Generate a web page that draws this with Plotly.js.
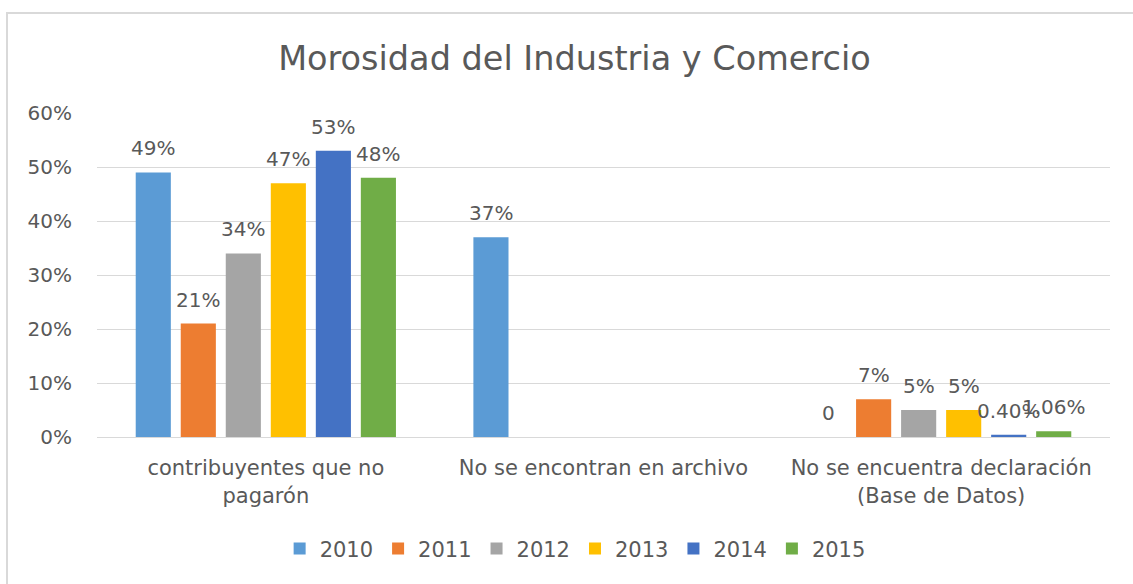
<!DOCTYPE html>
<html>
<head>
<meta charset="utf-8">
<script src="https://cdn.plot.ly/plotly-3.0.1.min.js"></script>
<style>
  html, body { margin: 0; padding: 0; background: #ffffff; }
  #wrap { position: relative; width: 1133px; height: 584px; overflow: hidden; }
  #chart { width: 1133px; height: 584px; }
  #frame { position: absolute; left: 6px; top: 12px; width: 1140px; height: 600px;
           border-top: 2px solid #d9d9d9; border-left: 2px solid #d9d9d9; pointer-events: none; }
</style>
</head>
<body>
<div id="wrap">
  <div id="chart"></div>
  <div id="frame"></div>
</div>
<script>
// ---- Data ----
const categories = [
  "contribuyentes que no<br>pagarón",
  "No se encontran en archivo",
  "No se encuentra declaración<br>(Base de Datos)"
];
const years = ["2010", "2011", "2012", "2013", "2014", "2015"];
const v2010 = [0.49, 0.37, 0];
const v2011 = [0.21, null, 0.07];
const v2012 = [0.34, null, 0.05];
const v2013 = [0.47, null, 0.05];
const v2014 = [0.53, null, 0.004];
const v2015 = [0.48, null, 0.0106];
const l2010 = ["49%", "37%", "0"];
const l2011 = ["21%", null, "7%"];
const l2012 = ["34%", null, "5%"];
const l2013 = ["47%", null, "5%"];
const l2014 = ["53%", null, "0.40%"];
const l2015 = ["48%", null, "1.06%"];
const yTickVals = [0, 0.1, 0.2, 0.3, 0.4, 0.5, 0.6];

// ---- Style ----
const colors = ["#5B9BD5", "#ED7D31", "#A5A5A5", "#FFC000", "#4472C4", "#70AD47"];
const series = [v2010, v2011, v2012, v2013, v2014, v2015];
const labels = [l2010, l2011, l2012, l2013, l2014, l2015];
const FONT = "'DejaVu Sans', sans-serif";
const TXT = "#595959";
const bargap = 0.2, bargroupgap = 0.22;

const traces = series.map((vals, i) => ({
  type: "bar",
  name: years[i],
  x: categories,
  y: vals,
  marker: { color: colors[i] },
  hoverinfo: "skip"
}));

// data labels placed at each bar's position on the category axis
const n = series.length;
const slot = (1 - bargap) / n;
const annotations = [];
series.forEach((vals, i) => {
  vals.forEach((v, j) => {
    if (v === null || labels[i][j] === null) return;
    annotations.push({
      x: j - (1 - bargap) / 2 + slot * (i + 0.5),
      y: v,
      xref: "x", yref: "y",
      text: labels[i][j],
      showarrow: false,
      yanchor: "bottom",
      yshift: 10,
      font: { family: FONT, size: 20, color: TXT }
    });
  });
});

const layout = {
  width: 1133, height: 584,
  margin: { l: 97, r: 23, t: 113, b: 147 },
  paper_bgcolor: "rgba(0,0,0,0)",
  plot_bgcolor: "#ffffff",
  title: {
    text: "Morosidad del Industria y Comercio",
    font: { family: FONT, size: 33.5, color: TXT },
    x: 0.507, xanchor: "center",
    y: 0.9, yanchor: "middle"
  },
  barmode: "group",
  bargap: bargap,
  bargroupgap: bargroupgap,
  showlegend: true,
  legend: {
    orientation: "h",
    x: 0.472, xanchor: "center",
    y: -0.345, yanchor: "middle",
    font: { family: FONT, size: 21, color: TXT },
    itemclick: false, itemdoubleclick: false
  },
  xaxis: {
    type: "category",
    showgrid: false,
    showline: true, linecolor: "#d9d9d9", linewidth: 1,
    ticks: "outside", ticklen: 12, tickcolor: "rgba(0,0,0,0)",
    tickfont: { family: FONT, size: 21, color: TXT },
    fixedrange: true
  },
  yaxis: {
    range: [0, 0.6],
    tickvals: yTickVals,
    tickformat: ".0%",
    showgrid: true, gridcolor: "#d9d9d9", gridwidth: 1,
    zeroline: false,
    ticks: "outside", ticklen: 20, tickcolor: "rgba(0,0,0,0)",
    tickfont: { family: FONT, size: 20, color: TXT },
    fixedrange: true
  },
  annotations: annotations
};

Plotly.newPlot("chart", traces, layout, { displayModeBar: false, staticPlot: true });
</script>
</body>
</html>
